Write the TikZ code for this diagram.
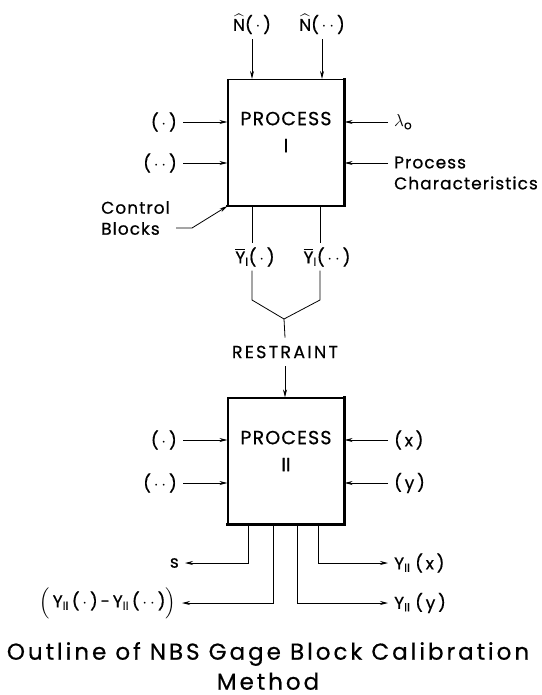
\documentclass[tikz,border=0pt]{standalone}
\usepackage{amsmath}
\usepackage{fontspec}
\setmainfont{Poppins}[LetterSpace=6, FakeBold=0.6]
\newfontfamily\widefont{Poppins}[LetterSpace=13, FakeBold=0.6]
\usepackage{tikz}
\usetikzlibrary{arrows.meta, positioning, calc}
\newcommand{\onedot}{(\,$\cdot$\,)}
\newcommand{\twodot}{(\,${\cdot}\,{\cdot}$\,)}

\begin{document}
\begin{tikzpicture}[x=1pt, y=-1pt,
    box/.style={rectangle, draw=black, line width=1.1pt, minimum width=116pt, minimum height=126pt, inner sep=0pt},
    edge/.style={line width=2.2pt, line cap=rect},
    boxtext/.style={align=center, font=\fontsize{19}{24}\selectfont},
    lbl/.style={font=\fontsize{17}{21}\selectfont, inner sep=2pt},
    side/.style={lbl, inner xsep=6pt, inner ysep=1pt},
    wire/.style={line width=0.8pt},
    arr/.style={-{Stealth[length=8pt, width=4pt]}, line width=0.8pt},
    heading/.style={align=center, inner sep=0pt, font=\widefont\fontsize{23}{30}\selectfont}]
\useasboundingbox (0,0) rectangle (541,695);
% process I
\node[box] (p1) at (286,142.5) {};
\draw[edge] (p1.north east) -- (p1.south east) -- (p1.south west);
\node[boxtext] (p1t) at (286,132) {PROCESS\\[3pt]$\mathrm{I}$};
\node[lbl] (n1) at (252,24) {$\widehat{\text{N}}$\onedot};
\node[lbl] (n2) at (322,24) {$\widehat{\text{N}}$\twodot};
\draw[arr] ([yshift=-3pt]n1.south) -- (n1.south |- p1.north);
\draw[arr] ([yshift=-3pt]n2.south) -- (n2.south |- p1.north);
\node[side, anchor=east] (a1) at (183,122) {\onedot};
\node[side, anchor=east] (a2) at (183,163) {\twodot};
\draw[arr] (a1.east) -- (a1.east -| p1.west);
\draw[arr] (a2.east) -- (a2.east -| p1.west);
\node[side, anchor=west] (lam) at (388,122) {$\lambda_{\text{o}}$};
\node[side, anchor=west, align=left] (pc) at (388,173) {Process\\Characteristics};
\draw[arr] (lam.west) -- (lam.west -| p1.east);
\draw[arr] (pc.west |- a2) -- (a2 -| p1.east);
\node[side, anchor=east, align=left] (cb) at (176,218) {Control\\Blocks};
\draw[arr] ([yshift=-10pt]cb.east) -- ++(16,0) -- (p1.south west);
% restraint
\node[lbl, inner sep=4pt] (y1) at (255,257) {$\overline{\text{Y}}_{\mathrm{I}}$\onedot};
\node[lbl, inner sep=4pt] (y2) at (327,257) {$\overline{\text{Y}}_{\mathrm{I}}$\twodot};
\coordinate (j1) at (252,300);
\coordinate (j2) at (320,300);
\coordinate (jm) at (284,319);
\draw[wire] (p1.south -| j1) -- (j1 |- y1.north);
\draw[wire] (p1.south -| j2) -- (j2 |- y2.north);
\draw[wire] (j1 |- y1.south) -- (j1) -- (jm) -- (j2) -- (j2 |- y2.south);
\node[lbl, inner sep=8pt, font=\widefont\fontsize{17.5}{21}\selectfont] (rs) at (285,352) {RESTRAINT};
\draw[wire] (jm) -- (rs.north);
% process II
\node[box] (p2) at (286,461) {};
\draw[edge] (p2.north east) -- (p2.south east) -- (p2.south west);
\node[boxtext] (p2t) at (286,451) {PROCESS\\[3pt]$\mathrm{II}$};
\draw[arr] (rs.south) -- (rs.south |- p2.north);
\node[side, anchor=east] (b1) at (183,440) {\onedot};
\node[side, anchor=east] (b2) at (183,483) {\twodot};
\draw[arr] (b1.east) -- (b1.east -| p2.west);
\draw[arr] (b2.east) -- (b2.east -| p2.west);
\node[side, anchor=west] (bx) at (388,440) {(\,x\,)};
\node[side, anchor=west] (by) at (388,483) {(\,y\,)};
\draw[arr] (bx.west) -- (bx.west -| p2.east);
\draw[arr] (by.west) -- (by.west -| p2.east);
% outputs
\coordinate (q1) at ([xshift=21pt]p2.south west);
\coordinate (q2) at ([xshift=46pt]p2.south west);
\coordinate (q3) at ([xshift=70pt]p2.south west);
\coordinate (q4) at ([xshift=91pt]p2.south west);
\node[side, anchor=east] (s) at (185,563) {s};
\node[side, anchor=west] (yx) at (388,563) {Y$_{\mathrm{II}}$\;(\,x\,)};
\node[side, anchor=east] (dif) at (182,603) {$\Bigl($\,Y$_{\mathrm{II}}$\,\onedot\,-\,Y$_{\mathrm{II}}$\,\twodot$\Bigr)$};
\node[side, anchor=west] (yy) at (388,603) {Y$_{\mathrm{II}}$\;(\,y\,)};
\draw[arr] (q1) |- (s.east);
\draw[arr] (q4) |- (yx.west);
\draw[arr] (q2) |- (dif.east);
\draw[arr] (q3) |- (yy.west);
\node[heading] (ttl) at (268,666) {Outline of NBS Gage Block Calibration\\Method};
\end{tikzpicture}
\end{document}
